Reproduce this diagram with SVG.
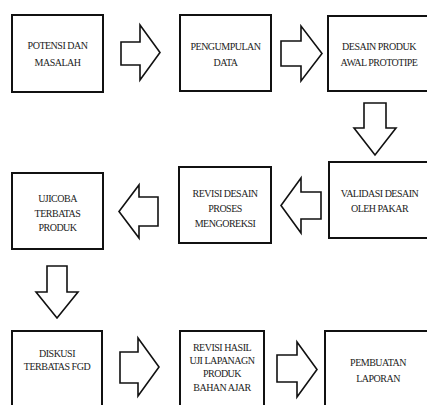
<svg xmlns="http://www.w3.org/2000/svg" width="427" height="405" viewBox="0 0 427 405">
<style>
.box{fill:#fff;stroke:#111;stroke-width:2}
.arr{fill:#fff;stroke:#111;stroke-width:1.6;stroke-linejoin:miter}
.t{font-family:'Liberation Serif','DejaVu Serif',serif;font-size:10px;letter-spacing:-0.5px;fill:#222;text-anchor:middle}
</style>
<rect width="427" height="405" fill="#fff"/>
<g id="n1"><rect class="box" x="12" y="15" width="91" height="77"/><text class="t" x="57.5" y="49">POTENSI DAN</text><text class="t" x="57.5" y="66">MASALAH</text></g>
<g id="n2"><rect class="box" x="180" y="15" width="91" height="76"/><text class="t" x="225.5" y="50">PENGUMPULAN</text><text class="t" x="225.5" y="66">DATA</text></g>
<g id="n3"><rect class="box" x="328" y="16" width="110" height="75"/><text class="t" x="379" y="50">DESAIN PRODUK</text><text class="t" x="379" y="66">AWAL PROTOTIPE</text></g>
<g id="n4"><rect class="box" x="329" y="162" width="110" height="76"/><text class="t" x="379.5" y="197">VALIDASI DESAIN</text><text class="t" x="379.5" y="212">OLEH  PAKAR</text></g>
<g id="n5"><rect class="box" x="179" y="167" width="92" height="76"/><text class="t" x="225" y="197">REVISI DESAIN</text><text class="t" x="225" y="212">PROSES</text><text class="t" x="225" y="227">MENGOREKSI</text></g>
<g id="n6"><rect class="box" x="12" y="173" width="91" height="76"/><text class="t" x="57.5" y="202">UJICOBA</text><text class="t" x="57.5" y="217">TERBATAS</text><text class="t" x="57.5" y="231">PRODUK</text></g>
<g id="n7"><rect class="box" x="12" y="331" width="90" height="90"/><text class="t" x="57" y="357">DISKUSI</text><text class="t" x="57" y="370">TERBATAS FGD</text></g>
<g id="n8"><rect class="box" x="180" y="331" width="84" height="90"/><text class="t" x="222" y="351">REVISI HASIL</text><text class="t" x="222" y="364">UJI  LAPANAGN</text><text class="t" x="222" y="377">PRODUK</text><text class="t" x="222" y="391">BAHAN AJAR</text></g>
<g id="n9"><rect class="box" x="325" y="331" width="113" height="90"/><text class="t" x="378" y="366">PEMBUATAN</text><text class="t" x="378" y="382">LAPORAN</text></g>
<g id="connectors">
<polygon class="arr" points="121,42 140,42 140,25 160,52.5 140,80 140,65 121,65"/>
<polygon class="arr" points="281,41 301,41 301,26 322,53.5 301,81 301,66 281,66"/>
<polygon class="arr" points="364,103 386,103 386,128 396,128 375,155 354,128 364,128"/>
<polygon class="arr" points="321,192 301,192 301,178 281,205.5 301,233 301,219 321,219"/>
<polygon class="arr" points="158,197 139,197 139,185 119,211.5 139,238 139,226 158,226"/>
<polygon class="arr" points="47,266 67,266 67,292 78,292 57,318 36,292 47,292"/>
<polygon class="arr" points="120,352 138,352 138,338 159,367 138,396 138,383 120,383"/>
<polygon class="arr" points="277,355 297,355 297,342 317,369.5 297,397 297,382 277,382"/>
</g>
</svg>
